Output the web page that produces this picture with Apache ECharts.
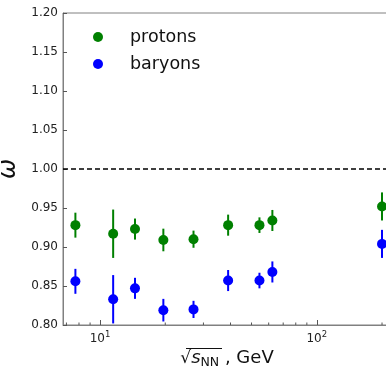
<!DOCTYPE html>
<html>
<head>
<meta charset="utf-8">
<script src="https://cdn.jsdelivr.net/npm/echarts@6/dist/echarts.min.js"></script>
<style>
  html, body { margin: 0; padding: 0; background: #fff; }
  #chart { width: 386px; height: 367px; }
</style>
</head>
<body>
<div id="chart"></div>
<script>
// collision energies, GeV
var energies = [7.7, 11.5, 14.5, 19.6, 27, 39, 54.4, 62.4, 200];
// omega values and errors
var protons = [0.928, 0.917, 0.923, 0.909, 0.910, 0.928, 0.928, 0.934, 0.952];
var protonsErr = [0.016, 0.031, 0.0135, 0.0145, 0.011, 0.0135, 0.010, 0.0135, 0.018];
var baryons = [0.856, 0.833, 0.847, 0.819, 0.820, 0.857, 0.857, 0.868, 0.904];
var baryonsErr = [0.016, 0.031, 0.0135, 0.0145, 0.011, 0.0135, 0.010, 0.0135, 0.018];
var minorTicks = [7, 8, 9, 20, 30, 40, 50, 60, 70, 80, 90, 200];
var yTicks = [0.80, 0.85, 0.90, 0.95, 1.00, 1.05, 1.10, 1.15, 1.20];

var myChart = echarts.init(document.getElementById('chart'));

function points(ys) {
    return energies.map(function (e, i) { return [e, ys[i]]; });
}
function errs(ys, es) {
    return energies.map(function (e, i) { return [e, ys[i], es[i]]; });
}
function errorBar(color) {
    return function (params, api) {
        var x = api.value(0), y = api.value(1), d = api.value(2);
        var p1 = api.coord([x, y - d]);
        var p2 = api.coord([x, y + d]);
        return {
            type: 'line',
            shape: { x1: p1[0], y1: p1[1], x2: p2[0], y2: p2[1] },
            style: { stroke: color, lineWidth: 2 }
        };
    };
}

var option = {
    animation: false,
    textStyle: { fontFamily: 'DejaVu Sans' },
    grid: {
        left: 63, top: 13, right: -5, bottom: 42,
        outerBoundsMode: 'none',
        containLabel: false,
        show: true, borderColor: '#808080', borderWidth: 1
    },
    // overline of the square root in the x axis title
    graphic: [{
        type: 'line',
        silent: true,
        shape: { x1: 186, y1: 348.5, x2: 222, y2: 348.5 },
        style: { stroke: '#111', lineWidth: 1 }
    }],
    legend: {
        orient: 'vertical',
        left: 88, top: 23,
        itemWidth: 10, itemHeight: 10, itemGap: 9,
        icon: 'circle',
        data: ['protons', 'baryons'],
        textStyle: { fontSize: 17.5, color: '#111', padding: [0, 0, 0, 22] }
    },
    xAxis: {
        type: 'log',
        logBase: 10,
        min: 6.75,
        max: 220,
        name: '{sq|√}{s|s}{n|NN}{g| , GeV}',
        nameLocation: 'middle',
        nameGap: 21,
        nameTextStyle: {
            rich: {
                sq: { fontSize: 17, color: '#111' },
                s: { fontSize: 18, fontStyle: 'italic', color: '#111' },
                n: { fontSize: 12.5, color: '#111', padding: [8, 0, 0, 0] },
                g: { fontSize: 18, color: '#111' }
            }
        },
        axisLine: { lineStyle: { color: '#808080', width: 1 } },
        axisTick: { inside: true, length: 5, lineStyle: { color: '#555' } },
        splitLine: { show: false },
        axisLabel: {
            margin: 5,
            showMinLabel: false,
            showMaxLabel: false,
            formatter: function (v) {
                var e = Math.log10(v);
                if (Math.abs(e - Math.round(e)) > 1e-6) return '';
                return '{b|10}{e|' + Math.round(e) + '}';
            },
            rich: {
                b: { fontSize: 12, color: '#222' },
                e: { fontSize: 8.5, color: '#222', padding: [0, 0, 8, 0] }
            }
        }
    },
    yAxis: {
        type: 'value',
        min: 0.8,
        max: 1.2,
        interval: 0.05,
        name: 'ω',
        nameLocation: 'middle',
        nameGap: 33,
        nameRotate: 90,
        nameTextStyle: { fontSize: 24, fontStyle: 'italic', color: '#111' },
        axisLine: { show: true, lineStyle: { color: '#808080', width: 1 } },
        axisTick: { show: true, inside: true, length: 4, lineStyle: { color: '#555' } },
        splitLine: { show: false },
        axisLabel: {
            margin: 5,
            fontSize: 12,
            color: '#222',
            formatter: function (v) { return v.toFixed(2); }
        }
    },
    series: [
        {
            name: 'minor',
            type: 'custom',
            silent: true,
            clip: false,
            data: minorTicks.map(function (t) { return [t, yTicks[0]]; }),
            renderItem: function (params, api) {
                var p = api.coord([api.value(0), api.value(1)]);
                return {
                    type: 'line',
                    shape: { x1: p[0], y1: p[1], x2: p[0], y2: p[1] - 2.5 },
                    style: { stroke: '#555', lineWidth: 1 }
                };
            }
        },
        {
            name: 'protons-err',
            type: 'custom',
            silent: true,
            data: errs(protons, protonsErr),
            renderItem: errorBar('#008000')
        },
        {
            name: 'baryons-err',
            type: 'custom',
            silent: true,
            data: errs(baryons, baryonsErr),
            renderItem: errorBar('#0000ff')
        },
        {
            name: 'protons',
            type: 'scatter',
            symbolSize: 10,
            itemStyle: { color: '#008000', opacity: 1 },
            data: points(protons),
            markLine: {
                silent: true,
                symbol: 'none',
                label: { show: false },
                lineStyle: { color: '#000', type: [5, 3], width: 1.5 },
                data: [{ yAxis: 1.0 }]
            }
        },
        {
            name: 'baryons',
            type: 'scatter',
            symbolSize: 10,
            itemStyle: { color: '#0000ff', opacity: 1 },
            data: points(baryons)
        }
    ]
};

myChart.setOption(option);
</script>
</body>
</html>
